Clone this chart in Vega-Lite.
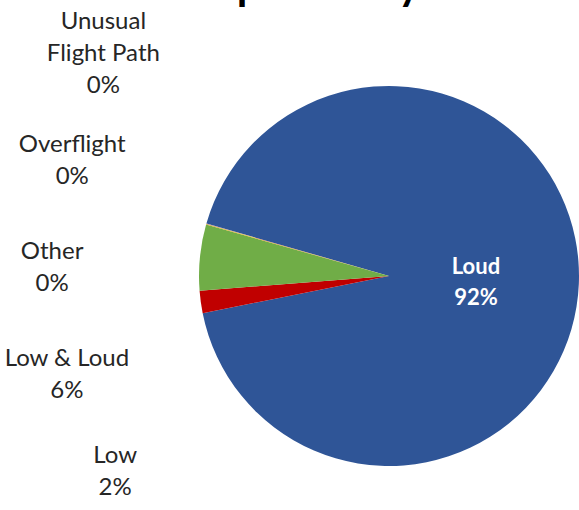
{
  "$schema": "https://vega.github.io/schema/vega-lite/v6.json",
  "width": 380,
  "height": 380,
  "autosize": {"type": "none"},
  "padding": {"left": 199, "top": 86, "right": 0, "bottom": 44},
  "background": "white",
  "config": {"view": {"stroke": null}, "text": {"font": "Lato"}},
  "title": {
    "text": "Complaints by Concern",
    "font": "Lato",
    "fontSize": 43,
    "fontWeight": "bold",
    "color": "#000000",
    "anchor": "start",
    "frame": "group",
    "dx": -51,
    "baseline": "alphabetic",
    "offset": -33
  },
  "data": {
    "values": [
      {"category": "Loud", "value": 92.4, "label": "Loud\n92%"},
      {"category": "Low", "value": 1.9, "label": "Low\n2%"},
      {"category": "Low & Loud", "value": 5.6, "label": "Low & Loud\n6%"},
      {"category": "Other", "value": 0.06, "label": "Other\n0%"},
      {"category": "Overflight", "value": 0.02, "label": "Overflight\n0%"},
      {"category": "Unusual Flight Path", "value": 0.02, "label": "Unusual\nFlight Path\n0%"}
    ]
  },
  "layer": [
    {
      "mark": {"type": "arc", "outerRadius": 190},
      "encoding": {
        "theta": {"field": "value", "type": "quantitative", "stack": true, "scale": {"range": [4.9927, 11.2759]}},
        "color": {
          "field": "category",
          "type": "nominal",
          "scale": {
            "domain": ["Loud", "Low", "Low & Loud", "Other", "Overflight", "Unusual Flight Path"],
            "range": ["#2F5597", "#C00000", "#70AD47", "#FFC000", "#7030A0", "#A5A5A5"]
          },
          "legend": null
        }
      }
    },
    {
      "mark": {"type": "text", "radius": 87, "fill": "#FFFFFF", "fontWeight": "bold", "fontSize": 22, "lineBreak": "\n", "lineHeight": 31, "align": "center", "baseline": "middle", "dy": -13},
      "encoding": {
        "theta": {"field": "value", "type": "quantitative", "stack": true, "scale": {"range": [4.9927, 11.2759]}},
        "detail": {"field": "category", "type": "nominal"},
        "text": {"condition": {"test": "datum.category === 'Loud'", "field": "label"}, "value": ""}
      }
    },
    {
      "transform": [{"filter": {"field": "category", "oneOf": ["Low", "Low & Loud", "Other", "Overflight"]}}],
      "mark": {"type": "text", "radius": 337, "fill": "#262626", "fontSize": 24, "lineBreak": "\n", "lineHeight": 32, "align": "center", "baseline": "middle", "dy": -16},
      "encoding": {
        "theta": {
          "field": "category",
          "type": "nominal",
          "scale": {"type": "point", "padding": 0, "domain": ["Low", "Low & Loud", "Other", "Overflight", "Unusual Flight Path"], "range": [4.09, 5.3844]}
        },
        "text": {"field": "label"}
      }
    },
    {
      "transform": [{"filter": {"field": "category", "equal": "Unusual Flight Path"}}],
      "mark": {"type": "text", "radius": 365, "fill": "#262626", "fontSize": 24, "lineBreak": "\n", "lineHeight": 32, "align": "center", "baseline": "middle", "dy": -27},
      "encoding": {
        "theta": {
          "field": "category",
          "type": "nominal",
          "scale": {"type": "point", "padding": 0, "domain": ["Low", "Low & Loud", "Other", "Overflight", "Unusual Flight Path"], "range": [4.09, 5.3844]}
        },
        "text": {"field": "label"}
      }
    }
  ],
  "resolve": {"scale": {"theta": "independent"}}
}
